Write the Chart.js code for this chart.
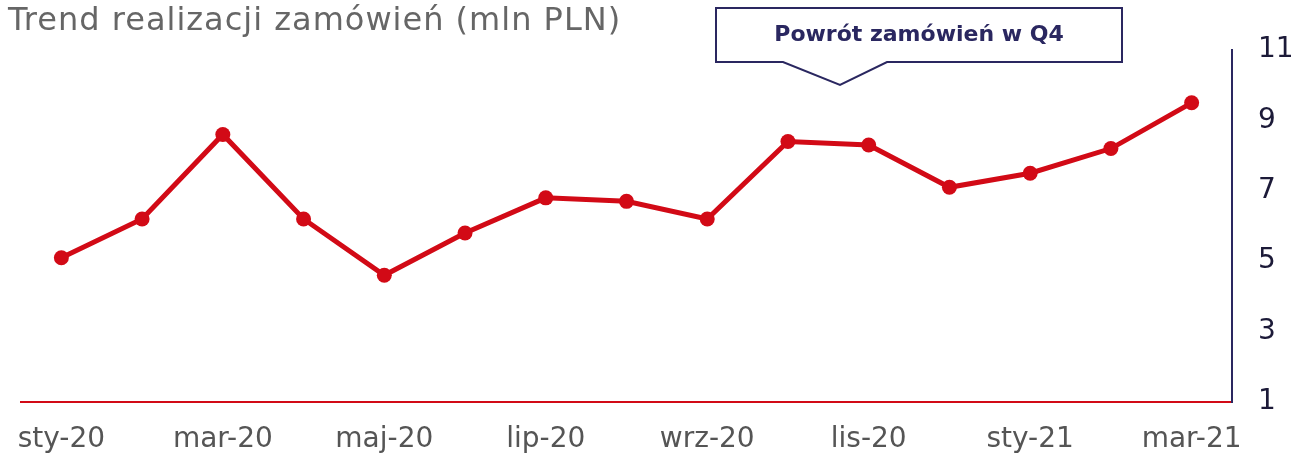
<!DOCTYPE html>
<html>
<head>
<meta charset="utf-8">
<script src="https://cdn.jsdelivr.net/npm/chart.js@4/dist/chart.umd.min.js"></script>
<style>
  html, body { margin: 0; padding: 0; background: #fff; }
  #wrap { width: 1298px; height: 456px; }
</style>
</head>
<body>
<div id="wrap"><canvas id="trend"></canvas></div>
<script>
// data
var months = ["sty-20", "lut-20", "mar-20", "kwi-20", "maj-20", "cze-20", "lip-20", "sie-20",
              "wrz-20", "paź-20", "lis-20", "gru-20", "sty-21", "lut-21", "mar-21"];
var orders = [5.1, 6.2, 8.6, 6.2, 4.6, 5.8, 6.8, 6.7, 6.2, 8.4, 8.3, 7.1, 7.5, 8.2, 9.5];
var yTicks = [1, 3, 5, 7, 9, 11];
var chartTitle = "Trend realizacji zamówień (mln PLN)";
var calloutText = "Powrót zamówień w Q4";

var FONT = "'DejaVu Sans', sans-serif";
var RED = '#d20a16';
var NAVY = '#2a2760';

// title + callout box drawn on top
var extras = {
  id: 'extras',
  afterDraw: function(chart) {
    var c = chart.ctx;
    c.save();
    c.fillStyle = '#666';
    c.font = '32px ' + FONT;
    c.letterSpacing = '1px';
    c.textBaseline = 'alphabetic';
    c.textAlign = 'left';
    c.fillText(chartTitle, 8, 30);
    c.letterSpacing = '0px';

    // callout box with pointer
    var x0 = 716, x1 = 1122, y0 = 8, y1 = 62;
    c.beginPath();
    c.moveTo(x0, y0);
    c.lineTo(x1, y0);
    c.lineTo(x1, y1);
    c.lineTo(887, y1);
    c.lineTo(840, 85);
    c.lineTo(783, y1);
    c.lineTo(x0, y1);
    c.closePath();
    c.fillStyle = '#fff';
    c.fill();
    c.strokeStyle = NAVY;
    c.lineWidth = 2;
    c.stroke();
    c.fillStyle = NAVY;
    c.font = 'bold 22px ' + FONT;
    c.textAlign = 'center';
    c.textBaseline = 'middle';
    c.fillText(calloutText, (x0 + x1) / 2, 35);
    c.restore();
  }
};

var ctx = document.getElementById('trend').getContext('2d');
var chart = new Chart(ctx, {
  type: 'line',
  data: {
    labels: months,
    datasets: [{
      data: orders,
      borderColor: RED,
      backgroundColor: RED,
      borderWidth: 5,
      pointRadius: 7.5,
      pointBackgroundColor: RED,
      pointBorderWidth: 0,
      tension: 0
    }]
  },
  options: {
    responsive: true,
    maintainAspectRatio: false,
    animation: false,
    layout: { padding: { top: 50, left: 21, right: 0, bottom: 0 } },
    plugins: {
      legend: { display: false },
      tooltip: { enabled: false }
    },
    scales: {
      x: {
        offset: true,
        grid: { display: false, drawTicks: false },
        border: { color: RED, width: 2 },
        afterFit: function(axis) {
          axis.height = 54;
          axis.paddingLeft = 0;
          axis.paddingRight = 0;
        },
        ticks: {
          autoSkip: false,
          maxRotation: 0,
          padding: 21,
          color: '#555',
          font: { family: FONT, size: 28 },
          callback: function(v, i) { return i % 2 === 0 ? months[i] : ''; }
        }
      },
      y: {
        position: 'right',
        min: 1,
        max: 11,
        afterBuildTicks: function(axis) {
          axis.ticks = yTicks.map(function(v) { return { value: v }; });
        },
        afterFit: function(axis) { axis.width = 66; },
        grid: { display: false, drawTicks: false },
        border: { color: NAVY, width: 2 },
        ticks: {
          padding: 26,
          color: '#1c1a38',
          font: { family: FONT, size: 28 }
        }
      }
    }
  },
  plugins: [extras]
});
</script>
</body>
</html>
